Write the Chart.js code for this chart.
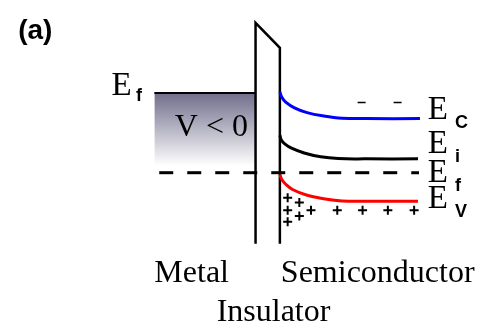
<!DOCTYPE html>
<html>
<head>
<meta charset="utf-8">
<script src="https://cdn.jsdelivr.net/npm/chart.js@4.4.1/dist/chart.umd.min.js"></script>
<style>
  html, body { margin: 0; padding: 0; background: #fff; }
  #wrap { width: 479px; height: 331px; }
</style>
</head>
<body>
<div id="wrap"><canvas id="bandChart" width="479" height="331"></canvas></div>
<script>
// band edges (x = position, y = energy in picture units, down is lower)
const ecX = [281, 283, 287, 296, 309, 326, 345, 370, 425];
const ecY = [89, 94.5, 99.5, 105.5, 110.5, 114, 116.3, 116.7, 116.7];
const eiX = [281, 282.5, 286, 293, 306, 323, 341, 370, 423];
const eiY = [134, 139, 143, 147.5, 152.5, 156.5, 158.3, 158.6, 158.6];
const evX = [281, 283, 287, 294, 309, 326, 345, 370, 423];
const evY = [175, 180, 185, 190.5, 196.5, 200, 202.4, 202.7, 202.7];
const efX = [157, 424];
const efY = [173, 173];
const metalX = [152, 256];
const metalY = [90, 90];
const insX = [256, 256, 281, 281];
const insY = [247, 17, 43, 247];
const holesX = [289, 301, 289, 301, 313, 289, 340, 366, 392, 419];
const holesY = [199, 204, 212, 218, 212, 224, 212, 212, 212, 212];
const electronsX = [365, 402];
const electronsY = [100, 100];
const regionLabels = ["Metal", "Semiconductor", "Insulator"];
const levelNames = ["C", "i", "f", "V"];

function pts(xs, ys) {
  return xs.map((x, i) => ({ x: x, y: ys[i] }));
}

const CHART = document.getElementById("bandChart");

const labelPlugin = {
  id: 'bandLabels',
  afterDraw(chart) {
    const c = chart.ctx;
    const sx = chart.scales.x, sy = chart.scales.y;
    const put = (txt, x, y, font) => {
      c.font = font;
      c.textAlign = 'left';
      c.textBaseline = 'alphabetic';
      c.fillStyle = '#000';
      c.fillText(txt, sx.getPixelForValue(x), sy.getPixelForValue(y));
    };
    const serif = '32px "Liberation Serif", "Times New Roman", serif';
    const bigE = '33px "Liberation Serif", "Times New Roman", serif';
    const subF = 'bold 18px "Liberation Sans", Arial, sans-serif';
    put("(a)", 12, 34, 'bold 28px "Liberation Sans", Arial, sans-serif');
    put("V < 0", 173, 135, serif);
    put("E", 108, 92, bigE);
    put("f", 133, 98, subF);
    const eBase = [117, 152, 183, 210];
    const sBase = [126, 162, 192, 219];
    levelNames.forEach((n, i) => {
      put("E", 433, eBase[i], bigE);
      put(n, 461, sBase[i], subF);
    });
    put(regionLabels[0], 152, 287, serif);
    put(regionLabels[1], 282, 287, serif);
    put(regionLabels[2], 216, 327, serif);
  }
};

let bandChart = new Chart(CHART, {
  type: 'line',
  data: {
    datasets: [
      {
        label: "Metal",
        order: 10,
        data: pts(metalX, metalY),
        borderColor: "#000",
        borderWidth: 2,
        pointRadius: 0,
        fill: { value: 172 },
        backgroundColor: function(context) {
          const chart = context.chart;
          const area = chart.chartArea;
          if (!area) return "rgba(0,0,0,0)";
          const y0 = chart.scales.y.getPixelForValue(91);
          const y1 = chart.scales.y.getPixelForValue(166);
          const g = chart.ctx.createLinearGradient(0, y0, 0, y1);
          g.addColorStop(0, "#72708d");
          g.addColorStop(1, "#ffffff");
          return g;
        }
      },
      {
        label: "Ef",
        order: 5,
        data: pts(efX, efY),
        borderColor: "#000",
        borderWidth: 3,
        borderDash: [14, 14],
        pointRadius: 0,
        fill: false
      },
      {
        label: "Insulator",
        order: 4,
        data: pts(insX, insY),
        borderColor: "#000",
        borderWidth: 2.5,
        borderJoinStyle: 'miter',
        pointRadius: 0,
        fill: false
      },
      {
        label: "Ec",
        order: 3,
        data: pts(ecX, ecY),
        borderColor: "#0000ff",
        borderWidth: 3,
        tension: 0.4,
        pointRadius: 0,
        fill: false
      },
      {
        label: "Ei",
        order: 3,
        data: pts(eiX, eiY),
        borderColor: "#000",
        borderWidth: 3,
        tension: 0.4,
        pointRadius: 0,
        fill: false
      },
      {
        label: "Ev",
        order: 3,
        data: pts(evX, evY),
        borderColor: "#ff0000",
        borderWidth: 3,
        tension: 0.4,
        pointRadius: 0,
        fill: false
      },
      {
        label: "holes",
        order: 1,
        data: pts(holesX, holesY),
        showLine: false,
        pointStyle: 'cross',
        pointRadius: 4.5,
        pointBorderWidth: 2,
        pointBorderColor: "#000"
      },
      {
        label: "electrons",
        order: 1,
        data: pts(electronsX, electronsY),
        showLine: false,
        pointStyle: 'line',
        pointRadius: 4,
        pointBorderWidth: 1.5,
        pointBorderColor: "#000"
      }
    ]
  },
  options: {
    responsive: false,
    animation: false,
    layout: { padding: 0 },
    plugins: { legend: { display: false }, tooltip: { enabled: false } },
    scales: {
      x: { type: 'linear', min: 0, max: 479, display: false },
      y: { type: 'linear', min: 0, max: 331, reverse: true, display: false }
    }
  },
  plugins: [labelPlugin]
});
</script>
</body>
</html>
